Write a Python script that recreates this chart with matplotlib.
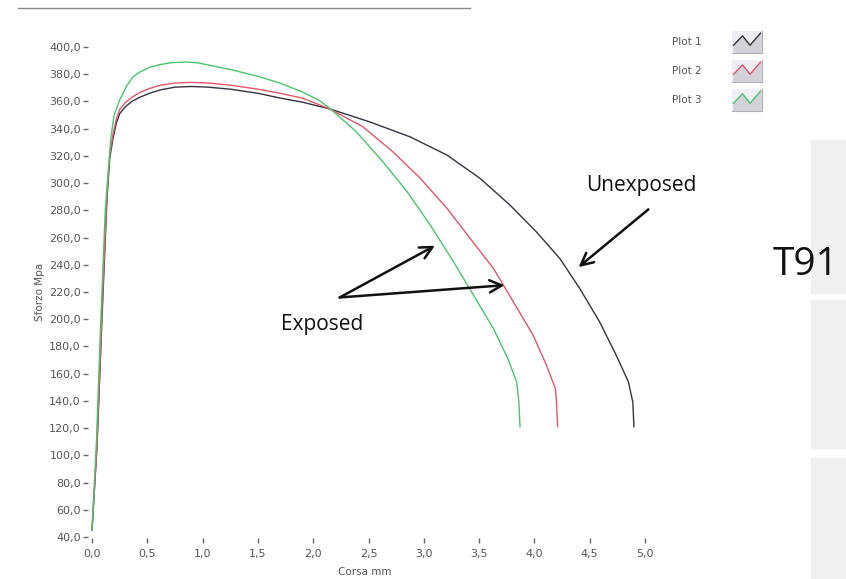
import numpy as np
import matplotlib.pyplot as plt
from matplotlib.patches import Rectangle
from matplotlib.lines import Line2D
from matplotlib.ticker import FuncFormatter

# Plot 1 - unexposed T91
corsa_1 = [0.0, 0.045, 0.09, 0.135, 0.16, 0.19, 0.22, 0.25, 0.3, 0.36, 0.43, 0.52,
           0.62, 0.75, 0.9, 1.05, 1.25, 1.5, 1.7, 1.9, 2.15, 2.51, 2.875, 3.21,
           3.51, 3.78, 4.02, 4.23, 4.41, 4.59, 4.74, 4.85, 4.89, 4.9]
sforzo_1 = [45, 106, 200, 288, 318, 333, 344, 351, 356, 360, 363, 366,
            368.5, 370.5, 371, 370.5, 369, 366, 362.5, 359.5, 354.5, 345, 334, 320.6,
            303.4, 283.8, 264, 244.6, 222.6, 198, 173.5, 154, 139, 121]

# Plot 2 - exposed
corsa_2 = [0.0, 0.045, 0.09, 0.135, 0.16, 0.19, 0.22, 0.25, 0.3, 0.36, 0.43, 0.52,
           0.62, 0.75, 0.9, 1.05, 1.25, 1.5, 1.7, 1.9, 2.15, 2.45, 2.72, 2.97,
           3.21, 3.42, 3.63, 3.81, 3.99, 4.11, 4.19, 4.2, 4.21]
sforzo_2 = [45, 108, 205, 292, 320, 336, 347, 354, 359, 363, 366.5, 369.5,
            372, 373.5, 374, 373.5, 372, 369, 366, 362.5, 354.5, 341.4, 323, 303.4,
            281.4, 259.3, 237.3, 212.7, 188, 166, 149, 139, 121]

# Plot 3 - exposed
corsa_3 = [0.0, 0.04, 0.08, 0.12, 0.17, 0.2, 0.25, 0.31, 0.37, 0.43, 0.52, 0.61,
           0.72, 0.85, 0.96, 1.1, 1.25, 1.5, 1.7, 1.9, 2.05, 2.15, 2.39, 2.63,
           2.85, 3.06, 3.27, 3.45, 3.63, 3.76, 3.84, 3.86, 3.87]
sforzo_3 = [45, 110, 200, 280, 333, 350, 361, 371, 378, 381.5, 385, 387,
            388.5, 389, 388.3, 386, 383.5, 378.5, 373.5, 367, 361, 355, 337.7, 315.7,
            293.6, 269, 242, 217.6, 193, 171, 154, 139, 121]

labels = ['Plot 1', 'Plot 2', 'Plot 3']
colors = ['#34343e', '#e0566a', '#4cc46e']

W, H = 846, 579
fig = plt.figure(figsize=(W / 100, H / 100), dpi=100)
fig.patch.set_facecolor('white')

ax = fig.add_axes([92 / W, 42 / H, 553 / W, 490 / H])
ax.set_xlim(0, 5)
ax.set_ylim(40, 400)
for s in ax.spines.values():
    s.set_visible(False)
ax.spines['left'].set_position(('outward', 3))
ax.spines['bottom'].set_position(('outward', 1))

for x, y, c in zip([corsa_1, corsa_2, corsa_3], [sforzo_1, sforzo_2, sforzo_3], colors):
    ax.plot(x, y, color=c, lw=1.0, clip_on=False, solid_joinstyle='round')

comma = FuncFormatter(lambda v, p: f'{v:.1f}'.replace('.', ','))
ax.set_xticks(np.arange(0, 5.01, 0.5))
ax.set_yticks(np.arange(40, 401, 20))
ax.xaxis.set_major_formatter(comma)
ax.yaxis.set_major_formatter(comma)
ax.tick_params(axis='y', direction='out', length=3.5, width=1, color='#666666',
               pad=1.5, labelsize=8, labelcolor='#555555')
ax.tick_params(axis='x', direction='out', length=3.5, width=1, color='#666666',
               pad=4, labelsize=8, labelcolor='#555555')
ax.set_ylabel('Sforzo Mpa', fontsize=7.5, color='#555555')
ax.yaxis.set_label_coords(-0.085, 0.5)
ax.set_xlabel('Corsa mm', fontsize=7.5, color='#555555')
ax.xaxis.set_label_coords(0.494, -0.062)

# annotations
ann = dict(fontsize=15, family='Open Sans', color='#111111', ha='center', va='center')
ax.text(4.97, 298, 'Unexposed', **ann)
ax.annotate('', xy=(4.38, 237), xytext=(5.05, 282),
            arrowprops=dict(arrowstyle='->', lw=1.8, color='#111111', mutation_scale=22))
ax.text(2.08, 196, 'Exposed', **ann)
for tip in [(3.1, 254), (3.73, 225)]:
    ax.annotate('', xy=tip, xytext=(2.24, 216),
                arrowprops=dict(arrowstyle='->', lw=1.8, color='#111111',
                                mutation_scale=22, shrinkA=0, shrinkB=0))

fig.text(806 / W, 1 - 265 / H, 'T91', fontsize=28, family='Open Sans',
         color='#111111', ha='center', va='center')

# legend entries with little chart icons
for i, (lab, c) in enumerate(zip(labels, colors)):
    yc = 42 + 29 * i
    fig.text(672 / W, 1 - yc / H, lab, fontsize=7.5, color='#555555', va='center')
    iax = fig.add_axes([732 / W, 1 - (yc + 11) / H, 30 / W, 22 / H])
    iax.set_xlim(0, 1)
    iax.set_ylim(0, 1)
    iax.set_facecolor('#eeeef3')
    zx = [0.05, 0.35, 0.6, 0.95]
    zy = [0.35, 0.78, 0.35, 0.9]
    iax.fill_between(zx, zy, 0, color='#d2d2d8')
    iax.plot(zx, zy, color=c, lw=1.0)
    iax.set_xticks([])
    iax.set_yticks([])
    for s in iax.spines.values():
        s.set_visible(False)
    iax.spines['right'].set_visible(True)
    iax.spines['bottom'].set_visible(True)
    iax.spines['right'].set_color('#b0b0b8')
    iax.spines['bottom'].set_color('#b0b0b8')

# window border and side panel
fig.add_artist(Line2D([18 / W, 470 / W], [1 - 8 / H, 1 - 8 / H], color='#8a8a8a', lw=1))
for y0, y1 in [(140, 293), (300, 448), (458, 579)]:
    fig.add_artist(Rectangle((811 / W, 1 - y1 / H), 35 / W, (y1 - y0) / H,
                             transform=fig.transFigure, color='#f0f0f0', zorder=-1))

fig.savefig('out.png', dpi=100)
